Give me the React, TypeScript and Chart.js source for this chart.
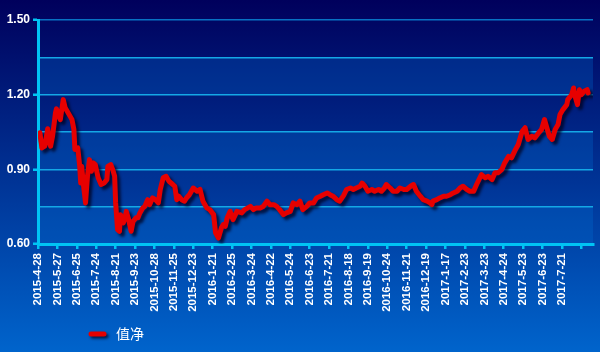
import React, { useEffect, useRef } from "react";
import { Chart, registerables } from "chart.js";

Chart.register(...registerables);

// Date labels, one every 20 trading days
const dateLabels: string[] = [
  "2015-4-28", "2015-5-27", "2015-6-25", "2015-7-24", "2015-8-21", "2015-9-23",
  "2015-10-28", "2015-11-25", "2015-12-23", "2016-1-21", "2016-2-25", "2016-3-24",
  "2016-4-22", "2016-5-24", "2016-6-23", "2016-7-21", "2016-8-18", "2016-9-19",
  "2016-10-24", "2016-11-21", "2016-12-19", "2017-1-17", "2017-2-23", "2017-3-23",
  "2017-4-24", "2017-5-23", "2017-6-23", "2017-7-21",
];

// trading-day index of each sampled point
const days: number[] = [
  0, 2, 4, 7, 10, 12, 13, 15, 18, 19, 23, 26, 28, 31, 35, 37, 38, 41, 43, 44,
  45, 47, 49, 51, 53, 55, 57, 59, 62, 65, 68, 71, 72, 75, 77, 79, 80, 82, 84, 85,
  88, 90, 91, 93, 96, 98, 101, 103, 105, 108, 110, 113, 115, 118, 121, 124, 126, 129, 132, 135,
  139, 141, 143, 145, 148, 151, 153, 156, 160, 164, 167, 170, 174, 177, 181, 183, 186, 189, 191, 193,
  195, 198, 201, 205, 210, 213, 219, 222, 225, 229, 232, 236, 239, 243, 246, 249, 253, 256, 260, 263,
  267, 270, 273, 277, 280, 284, 287, 291, 294, 298, 301, 304, 308, 311, 315, 318, 322, 325, 328, 332,
  334, 337, 340, 344, 347, 351, 354, 357, 359, 363, 366, 370, 373, 377, 380, 384, 387, 390, 394, 397,
  401, 404, 406, 407, 411, 414, 418, 421, 425, 428, 432, 435, 438, 442, 445, 449, 452, 457, 461, 464,
  468, 471, 474, 478, 481, 485, 488, 492, 495, 499, 502, 505, 509, 512, 516, 519, 522, 524, 527, 530,
  533, 536, 538, 541, 545, 546, 550, 552, 553, 556, 558, 560, 563, 566, 567,
];

// net value (值净)
const navValues: number[] = [
  1.033, 1.047, 0.986, 0.993, 1.063, 1.006, 0.993, 1.033, 1.127, 1.143, 1.10, 1.18, 1.147, 1.127, 1.10, 1.06, 0.98, 0.986, 0.912, 0.845,
  0.912, 0.832, 0.765, 0.872, 0.939, 0.892, 0.926, 0.919, 0.866, 0.839, 0.845, 0.859, 0.912, 0.919, 0.899, 0.872, 0.765, 0.658, 0.651, 0.718,
  0.685, 0.711, 0.731, 0.705, 0.651, 0.691, 0.705, 0.705, 0.725, 0.745, 0.751, 0.778, 0.758, 0.785, 0.778, 0.765, 0.819, 0.866, 0.872, 0.852,
  0.839, 0.832, 0.778, 0.792, 0.778, 0.772, 0.785, 0.798, 0.825, 0.812, 0.819, 0.772, 0.745, 0.738, 0.718, 0.645, 0.624, 0.665, 0.678, 0.671,
  0.705, 0.731, 0.698, 0.731, 0.725, 0.738, 0.751, 0.738, 0.745, 0.745, 0.751, 0.772, 0.758, 0.758, 0.751, 0.738, 0.718, 0.725, 0.731, 0.765,
  0.758, 0.772, 0.738, 0.751, 0.765, 0.765, 0.785, 0.792, 0.798, 0.805, 0.798, 0.792, 0.778, 0.772, 0.795, 0.819, 0.825, 0.819, 0.825, 0.832,
  0.845, 0.832, 0.812, 0.819, 0.812, 0.819, 0.812, 0.825, 0.839, 0.825, 0.812, 0.812, 0.825, 0.819, 0.819, 0.832, 0.839, 0.812, 0.792, 0.778,
  0.772, 0.765, 0.758, 0.772, 0.778, 0.785, 0.792, 0.792, 0.798, 0.805, 0.812, 0.825, 0.832, 0.819, 0.812, 0.812, 0.839, 0.879, 0.866, 0.872,
  0.859, 0.886, 0.886, 0.899, 0.926, 0.952, 0.946, 0.979, 1.0, 1.053, 1.067, 1.02, 1.033, 1.026, 1.047, 1.06, 1.10, 1.073, 1.033, 1.02,
  1.06, 1.08, 1.12, 1.14, 1.16, 1.18, 1.20, 1.227, 1.20, 1.16, 1.22, 1.20, 1.214, 1.22, 1.207,
];

const yMin = 0.6;
const yMax = 1.5;
const yStep = 0.15;
const dayStep = 20;
const dayMax = 572;
const seriesName = "值净";

const FONT = "'Liberation Sans', Arial, sans-serif";
const CYAN = "#00c4f4";
const RED = "#e60000";

const bgPlugin = {
  id: "bgPlugin",
  beforeDraw(chart: any) {
    const { ctx, width, height, chartArea, scales } = chart;
    ctx.save();
    const g = ctx.createLinearGradient(0, 0, 0, height);
    g.addColorStop(0, "#00005c");
    g.addColorStop(1, "#0064cc");
    ctx.fillStyle = g;
    ctx.fillRect(0, 0, width, height);
    const y = scales.y;
    ctx.fillStyle = "rgba(0,115,215,0.27)";
    let k = 0;
    for (let v = yMax; v > yMin + 1e-6; v -= yStep) {
      if (k % 2 === 1) {
        const top = y.getPixelForValue(v);
        const bot = y.getPixelForValue(v - yStep);
        ctx.fillRect(chartArea.left, top, chartArea.right - chartArea.left, bot - top);
      }
      k++;
    }
    ctx.restore();
  },
  beforeDatasetsDraw(chart: any) {
    const ctx = chart.ctx;
    ctx.save();
    ctx.shadowColor = "rgba(0,0,30,0.75)";
    ctx.shadowBlur = 3;
    ctx.shadowOffsetX = 3;
    ctx.shadowOffsetY = 3;
  },
  afterDatasetsDraw(chart: any) {
    chart.ctx.restore();
  },
  afterDraw(chart: any) {
    const ctx = chart.ctx;
    ctx.save();
    ctx.shadowColor = "rgba(0,0,30,0.75)";
    ctx.shadowBlur = 3;
    ctx.shadowOffsetX = 2;
    ctx.shadowOffsetY = 2;
    ctx.strokeStyle = RED;
    ctx.lineWidth = 5;
    ctx.lineCap = "round";
    ctx.beginPath();
    ctx.moveTo(91, 334);
    ctx.lineTo(104, 334);
    ctx.stroke();
    ctx.shadowColor = "transparent";
    ctx.fillStyle = "#ffffff";
    ctx.font = "14px 'Noto Sans CJK SC', sans-serif";
    ctx.textBaseline = "middle";
    ctx.textAlign = "left";
    ctx.fillText(seriesName, 116, 334);
    ctx.restore();
  },
};

export default function App() {
  const ref = useRef<HTMLCanvasElement>(null);
  useEffect(() => {
    if (!ref.current) return;
    const chart = new Chart(ref.current, {
      type: "line",
      data: {
        datasets: [
          {
            label: seriesName,
            data: days.map((d, i) => ({ x: d, y: navValues[i] })),
            borderColor: RED,
            borderWidth: 5,
            pointRadius: 0,
            tension: 0,
            borderJoinStyle: "round",
            borderCapStyle: "round",
          },
        ],
      },
      options: {
        responsive: false,
        animation: false,
        layout: { padding: { top: 20, right: 7, left: 0, bottom: 0 } },
        plugins: { legend: { display: false }, tooltip: { enabled: false }, title: { display: false } },
        scales: {
          x: {
            type: "linear",
            min: 0,
            max: dayMax,
            afterFit: (s: any) => { s.height = 108; },
            border: { display: true, color: CYAN, width: 3 },
            grid: { drawOnChartArea: false, drawTicks: true, tickLength: 5, tickColor: CYAN, lineWidth: 2.5 },
            ticks: {
              stepSize: dayStep,
              includeBounds: false,
              autoSkip: false,
              minRotation: 90,
              maxRotation: 90,
              padding: 4,
              color: "#ffffff",
              font: { family: FONT, size: 11.5, weight: "bold" },
              callback: (v: any) => {
                const i = Math.round(Number(v) / dayStep);
                return dateLabels[i] ?? "";
              },
            },
          },
          y: {
            min: yMin,
            max: yMax,
            afterFit: (s: any) => { s.width = 38; },
            border: { display: true, color: CYAN, width: 3 },
            grid: {
              color: (c: any) => (c.index === 6 ? "#0872c4" : "#14a8e6"),
              lineWidth: 1.5,
              drawTicks: true,
              tickLength: 5,
              tickColor: (c: any) => (c.index % 2 === 0 ? CYAN : "rgba(0,0,0,0)"),
              tickWidth: 2.5,
            },
            ticks: {
              stepSize: yStep,
              padding: 3,
              color: "#ffffff",
              font: { family: FONT, size: 12, weight: "bold" },
              callback: (v: any, i: number) => (i % 2 === 0 ? Number(v).toFixed(2) : ""),
            },
          },
        },
      } as any,
      plugins: [bgPlugin],
    });
    return () => chart.destroy();
  }, []);
  return (
    <div style={{ position: "fixed", left: 0, top: 0, width: 600, height: 352 }}>
      <canvas ref={ref} width={600} height={352} style={{ display: "block" }} />
    </div>
  );
}
